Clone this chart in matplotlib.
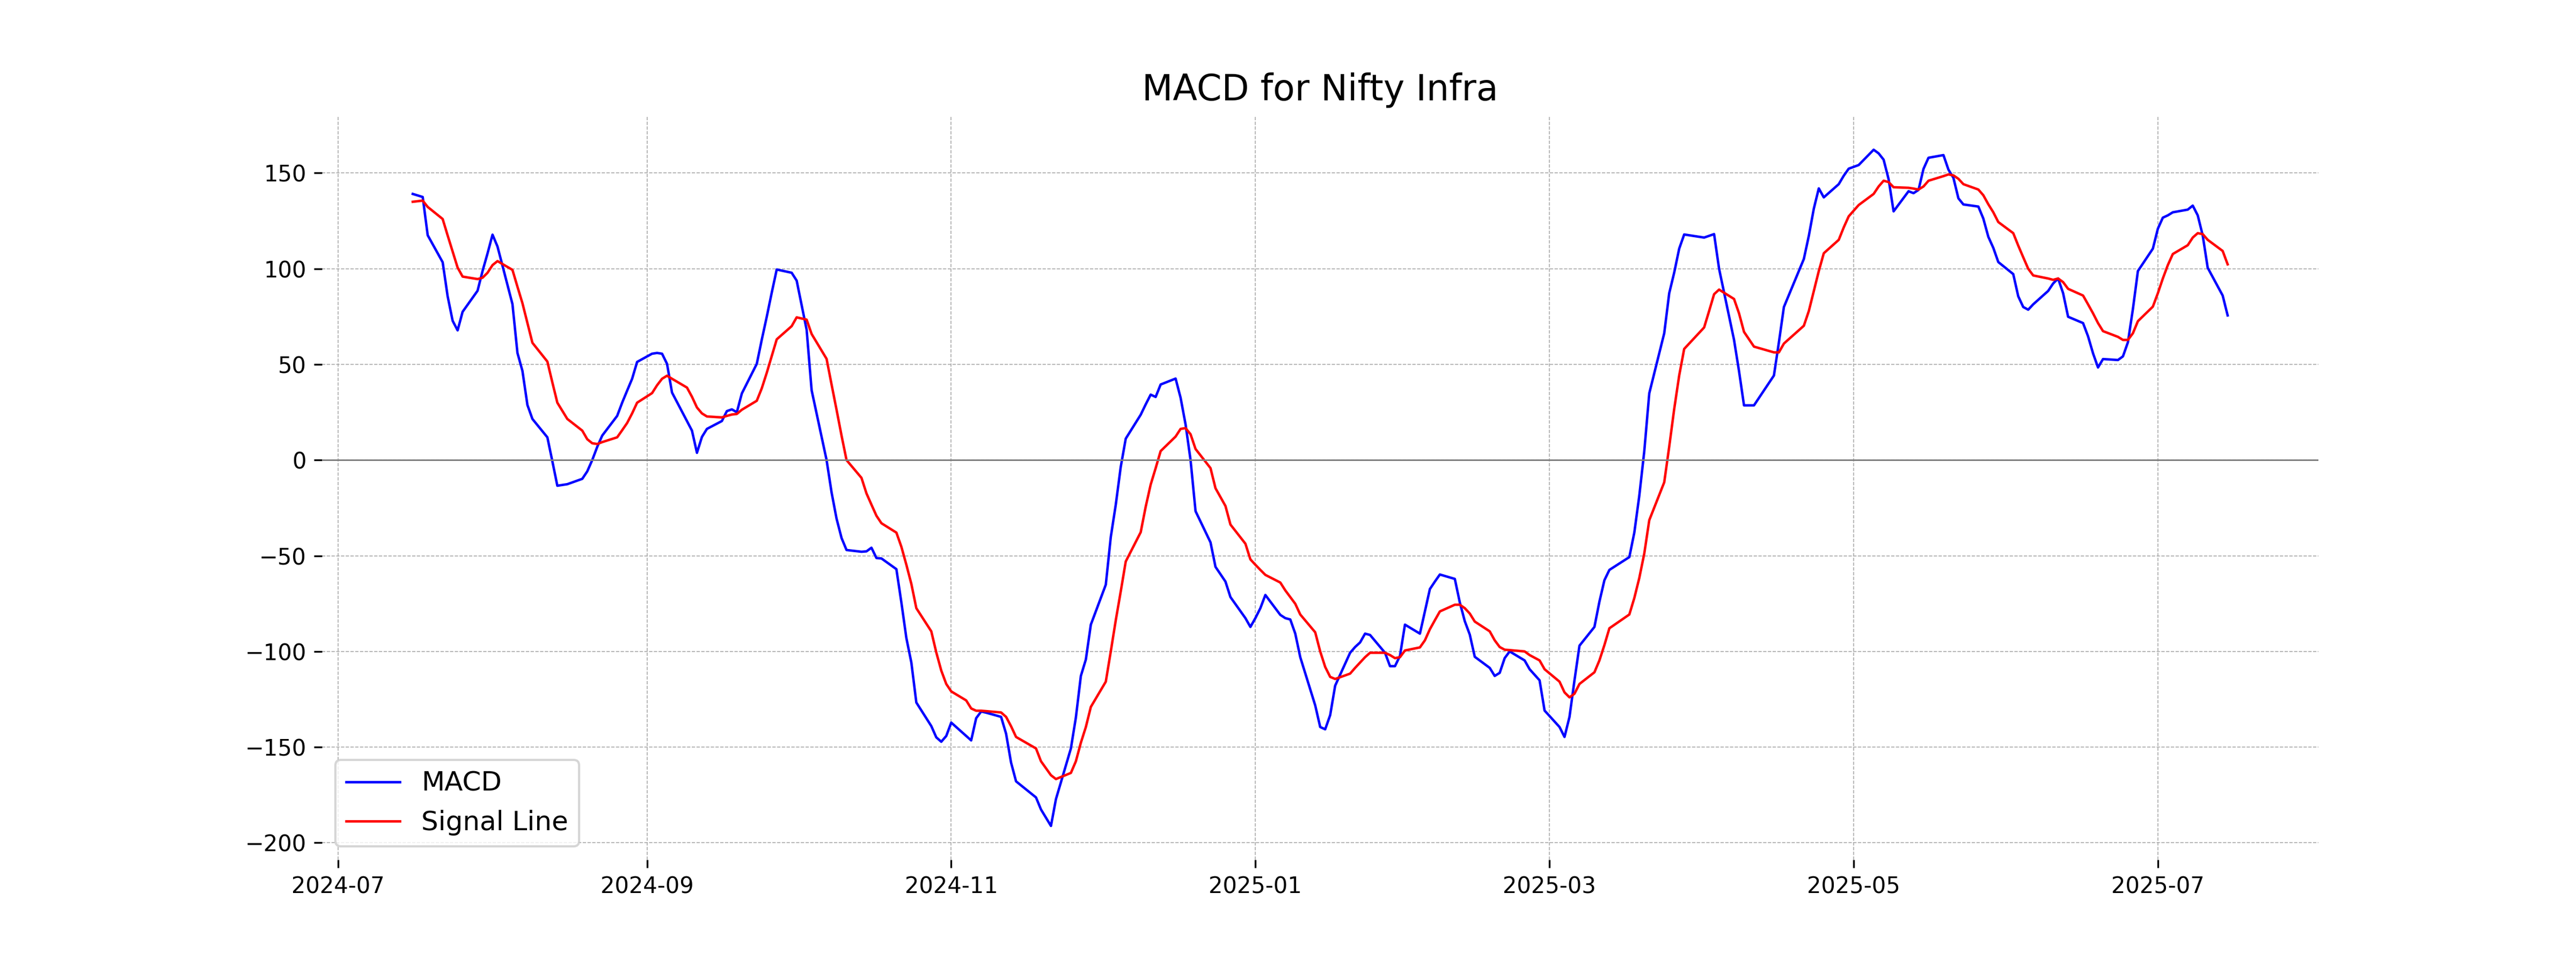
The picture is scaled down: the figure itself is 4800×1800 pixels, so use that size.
import matplotlib
matplotlib.use("Agg")
import matplotlib.pyplot as plt
import pandas as pd

# NSE trading days, Jul 16 2024 - Jul 15 2025
holidays = ['2024-07-17', '2024-08-15', '2024-10-02', '2024-11-15', '2024-11-20',
            '2024-12-25', '2025-02-26', '2025-03-14', '2025-03-31', '2025-04-10',
            '2025-04-14', '2025-04-18', '2025-05-01']
dates = pd.bdate_range('2024-07-16', '2025-07-15')
dates = dates[~dates.isin(pd.to_datetime(holidays))]

macd = [
    # Jul 2024
    139.1, 137.5, 117.5, 103.4, 85.6, 72.8, 67.8, 77.5, 88.5, 98.8, 108.0,
    # Aug
    117.8, 111.6, 81.5, 56.0, 46.6, 28.8, 21.5, 11.9, -0.6, -13.4, -12.6,
    -9.8, -5.9, 0.0, 6.9, 12.8, 23.1, 30.0, 36.3, 42.5, 51.3,
    # Sep
    55.6, 56.0, 55.6, 50.3, 35.3, 20.4, 15.4, 3.8, 12.1, 16.3, 20.4,
    25.6, 26.5, 25.0, 34.8, 50.3, 62.9, 74.9, 87.5, 99.6, 97.9,
    # Oct
    93.8, 68.1, 36.5, 0.0, -16.9, -30.6, -40.7, -47.0, -47.9, -47.7, -45.8,
    -51.2, -51.4, -57.0, -74.4, -93.0, -105.8, -126.7, -139.0, -144.9, -147.2, -144.2,
    # Nov
    -137.2, -144.2, -146.5, -134.9, -131.4, -132.0, -134.2, -143.0, -158.1, -167.9,
    -176.3, -182.6, -191.2, -177.2, -150.7, -134.5, -112.8, -104.2, -86.0,
    # Dec
    -65.1, -40.2, -23.3, -3.5, 11.2, 23.7, 29.1, 34.2, 33.0, 39.5, 42.6,
    32.6, 18.6, 0.0, -26.7, -43.0, -55.8, -63.5, -71.6, -82.6, -87.2,
    # Jan 2025
    -82.6, -77.4, -70.5, -80.9, -82.6, -83.3, -90.7, -103.0, -128.2, -139.5, -140.7,
    -133.3, -117.9, -100.7, -97.7, -95.3, -90.7, -91.4, -100.7, -107.7, -107.7, -102.3, -86.0,
    # Feb
    -90.7, -79.0, -67.4, -63.5, -59.8, -62.1, -74.4, -84.2, -91.2, -102.8,
    -108.6, -112.8, -111.2, -103.5, -100.0, -104.7, -109.3, -115.1, -130.9,
    # Mar
    -139.5, -144.7, -134.2, -115.1, -97.0, -87.2, -74.0, -62.8, -57.4, -50.7,
    -37.9, -18.6, 4.7, 34.9, 66.3, 87.2, 98.0, 110.5, 117.9,
    # Apr
    116.3, 117.2, 118.1, 100.0, 62.8, 46.5, 28.6, 28.6, 44.2, 61.6,
    80.0, 105.1, 117.2, 131.4, 142.0, 137.3, 144.2, 148.6, 152.3,
    # May
    154.2, 162.2, 160.3, 157.0, 146.8, 130.0, 140.5, 139.5, 141.2, 152.2, 158.0,
    159.4, 151.8, 147.5, 136.8, 133.6, 132.5, 126.2, 116.7, 110.9, 103.5,
    # Jun
    97.2, 85.6, 80.0, 78.6, 81.4, 88.4, 92.3, 94.9, 87.2, 74.9, 71.6,
    64.7, 55.8, 48.4, 52.8, 52.3, 54.2, 61.6, 79.0, 98.8, 110.5,
    # Jul
    120.9, 126.7, 127.9, 129.5, 130.9, 133.0, 127.9, 117.4, 100.5, 86.0, 75.6,
]

signal = [
    # Jul 2024
    135.0, 135.6, 132.3, 126.0, 117.4, 109.0, 100.6, 95.9, 94.6, 95.3, 97.9,
    # Aug
    101.9, 104.0, 99.4, 90.6, 82.0, 71.6, 61.3, 51.5, 40.6, 30.0, 21.5,
    15.4, 10.9, 8.8, 8.4, 9.4, 11.9, 15.6, 19.4, 24.4, 30.0,
    # Sep
    35.0, 39.1, 42.5, 44.1, 42.5, 37.9, 33.1, 27.5, 24.4, 22.8, 22.3,
    23.1, 23.8, 24.1, 26.3, 31.0, 37.5, 45.6, 54.4, 63.1, 70.0,
    # Oct
    74.6, 73.4, 65.9, 52.9, 39.5, 26.3, 12.8, 0.0, -9.3, -17.4, -23.3,
    -29.1, -33.0, -37.9, -45.3, -54.7, -64.7, -77.4, -89.5, -100.5, -110.0, -117.0,
    # Nov
    -120.9, -125.6, -129.8, -131.0, -131.0, -131.2, -131.9, -134.2, -139.1, -144.7,
    -150.7, -157.4, -164.7, -166.7, -163.5, -157.4, -147.7, -139.5, -129.0,
    # Dec
    -115.8, -100.0, -83.7, -68.6, -53.0, -37.7, -24.4, -12.8, -4.2, 4.7, 12.3,
    16.3, 16.7, 13.5, 5.8, -4.2, -14.7, -24.0, -33.7, -43.7, -51.9,
    # Jan 2025
    -54.7, -57.4, -60.0, -64.0, -68.1, -71.6, -75.1, -80.7, -90.0, -100.0, -108.1,
    -113.3, -114.4, -111.6, -108.6, -105.8, -103.0, -100.7, -100.7, -101.9, -103.5, -103.0, -99.5,
    # Feb
    -97.9, -94.2, -88.4, -83.7, -79.1, -75.6, -75.6, -77.4, -80.2, -84.4,
    -89.5, -94.2, -97.7, -99.1, -99.3, -100.0, -101.9, -104.7, -109.3,
    # Mar
    -115.8, -121.4, -124.0, -122.1, -117.0, -110.9, -104.7, -96.7, -87.9, -80.7,
    -72.1, -61.6, -48.8, -31.4, -11.6, 7.0, 26.7, 44.2, 58.1,
    # Apr
    69.3, 77.9, 86.7, 89.1, 84.2, 76.7, 67.0, 59.3, 56.3, 56.3,
    60.9, 70.2, 77.9, 88.4, 98.8, 108.1, 115.1, 121.6, 127.4,
    # May
    133.3, 139.1, 143.0, 146.0, 145.3, 142.6, 142.3, 141.9, 141.4, 143.0, 146.0,
    148.4, 149.3, 148.8, 147.0, 144.2, 141.4, 138.4, 133.7, 129.5, 124.4,
    # Jun
    118.6, 112.1, 106.0, 100.0, 96.5, 94.9, 94.2, 94.9, 93.0, 89.5, 86.0,
    81.4, 76.7, 71.6, 67.4, 64.4, 62.8, 62.8, 66.3, 72.6, 80.2,
    # Jul
    87.2, 94.9, 101.9, 107.7, 112.3, 116.3, 118.6, 118.1, 115.1, 109.3, 102.3,
]

fig, ax = plt.subplots(figsize=(16, 6))

ax.plot(dates, macd, label='MACD', color='blue', linewidth=1.1)
ax.plot(dates, signal, label='Signal Line', color='red', linewidth=1.1)
ax.axhline(0, color='#808080', linewidth=0.7)

ax.set_title('MACD for Nifty Infra', fontsize=16, pad=7)
ax.grid(True, linestyle='--', linewidth=0.4, color='#aaaaaa')
for s in ax.spines.values():
    s.set_visible(False)
ax.tick_params(labelsize=10)
ax.legend(loc='lower left', fontsize=12)

plt.savefig('out.png', dpi=300)
